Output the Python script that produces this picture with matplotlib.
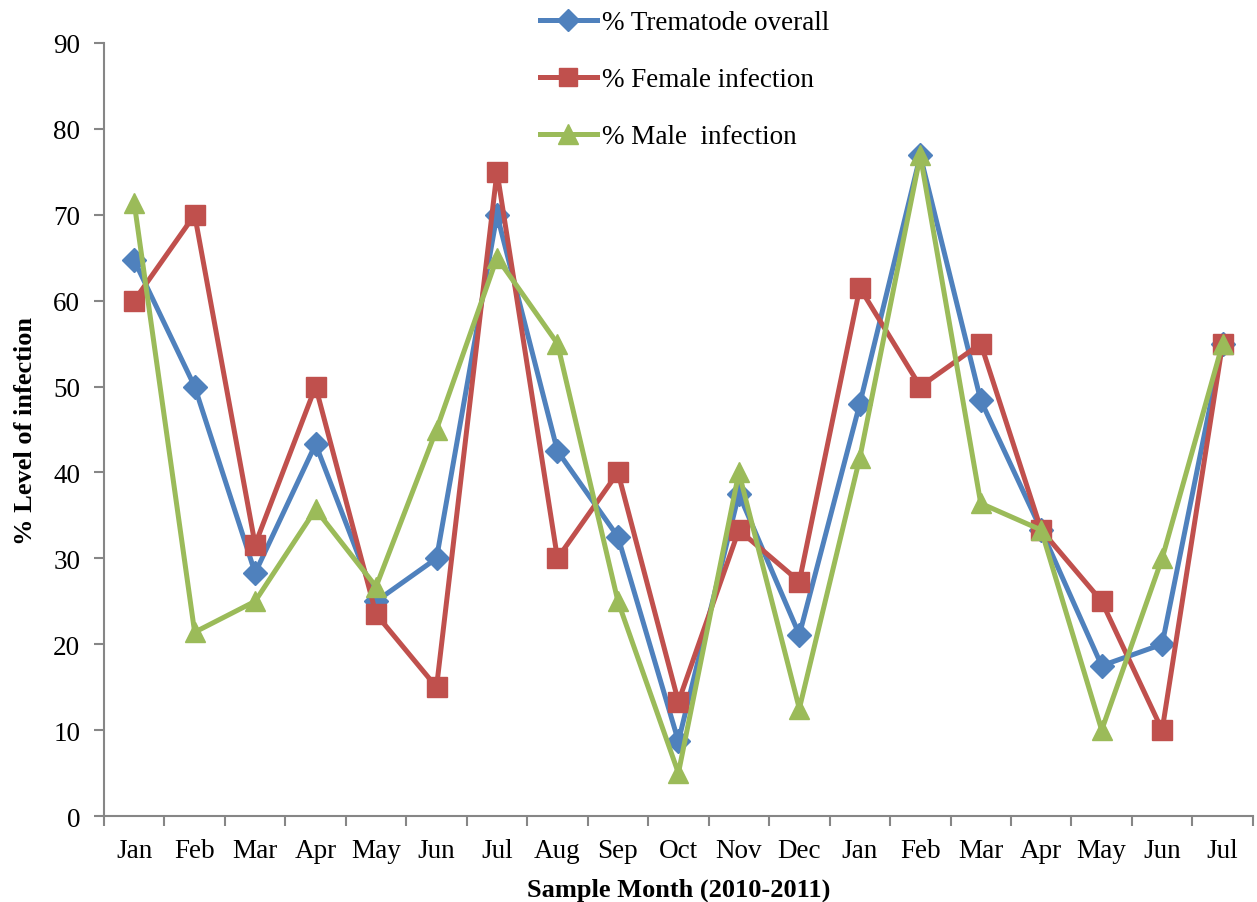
import matplotlib
matplotlib.use("Agg")
import matplotlib.pyplot as plt
import numpy as np

plt.rcParams['font.family'] = ['Liberation Serif', 'DejaVu Serif']

months = ["Jan", "Feb", "Mar", "Apr", "May", "Jun", "Jul", "Aug", "Sep", "Oct",
          "Nov", "Dec", "Jan", "Feb", "Mar", "Apr", "May", "Jun", "Jul"]

trematode_overall = [64.7, 50.0, 28.3, 43.3, 25.0, 30.0, 70.0, 42.5, 32.5, 8.7,
                     37.5, 21.1, 48.0, 76.9, 48.4, 33.3, 17.5, 20.0, 55.0]
female_infection = [60.0, 70.0, 31.6, 50.0, 23.5, 15.0, 75.0, 30.0, 40.0, 13.3,
                    33.3, 27.3, 61.5, 50.0, 55.0, 33.3, 25.0, 10.0, 55.0]
male_infection = [71.4, 21.4, 25.0, 35.7, 26.7, 45.0, 65.0, 55.0, 25.0, 5.0,
                  40.0, 12.5, 41.7, 76.9, 36.4, 33.3, 10.0, 30.0, 55.0]

blue = "#4F81BD"
red = "#C0504D"
green = "#9BBB59"
axis_gray = "#868686"

fig = plt.figure(figsize=(12.57, 9.03), dpi=100)
ax = fig.add_axes([0.0827, 0.0952, 0.914, 0.8561])

x = np.arange(len(months))
ax.plot(x, trematode_overall, color=blue, lw=3.6, marker='D', ms=12,
        label="% Trematode overall")
ax.plot(x, female_infection, color=red, lw=3.6, marker='s', ms=14,
        label="% Female infection")
ax.plot(x, male_infection, color=green, lw=3.6, marker='^', ms=15,
        label="% Male  infection")

ax.set_xlim(-0.5, len(months) - 0.5)
ax.set_ylim(0, 90)
ax.set_yticks(range(0, 91, 10))

# boundary ticks between months, labels centred on each month
ax.set_xticks(np.arange(-0.5, len(months), 1.0))
ax.set_xticklabels([])
ax.set_xticks(x, minor=True)
ax.set_xticklabels(months, minor=True)
ax.tick_params(axis='x', which='minor', length=0, pad=16, labelsize=19.5)
ax.tick_params(axis='x', which='major', length=7, width=1.5, color=axis_gray)
ax.tick_params(axis='y', length=7, width=1.5, color=axis_gray, labelsize=19.5, pad=10)

for side in ['top', 'right']:
    ax.spines[side].set_visible(False)
for side in ['left', 'bottom']:
    ax.spines[side].set_color(axis_gray)
    ax.spines[side].set_linewidth(1.5)

ax.set_xlabel("Sample Month (2010-2011)", fontsize=19, fontweight='bold', labelpad=10)
ax.set_ylabel("% Level of infection", fontsize=19, fontweight='bold', labelpad=12)

leg = fig.legend(loc='upper left', bbox_to_anchor=(0.41, 1.0144), frameon=False,
                 fontsize=19.5, handlelength=2.1, handletextpad=0.2,
                 labelspacing=1.18, markerscale=0.95)

fig.savefig("out.png", dpi=100)
